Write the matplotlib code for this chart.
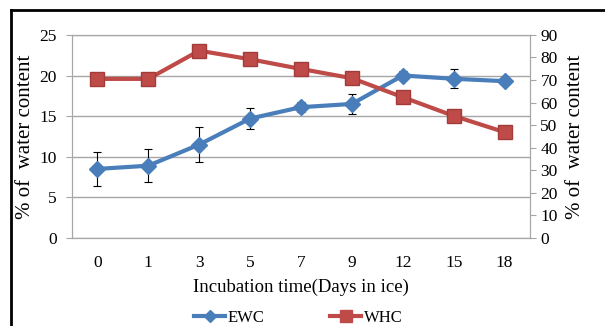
import matplotlib.pyplot as plt
from matplotlib.lines import Line2D

# Incubation time (days in ice)
days = ['0', '1', '3', '5', '7', '9', '12', '15', '18']
ewc = [8.5, 8.9, 11.5, 14.7, 16.1, 16.5, 20.0, 19.6, 19.3]
ewc_err = [2.1, 2.0, 2.1, 1.3, 0.6, 1.2, 0.6, 1.2, 0.3]
whc = [70.5, 70.5, 83.0, 79.2, 74.9, 70.8, 62.4, 54.1, 46.9]

plt.rcParams['font.family'] = 'Liberation Serif'

fig = plt.figure(figsize=(6.05, 3.26), dpi=100)
ax = fig.add_axes([0.119, 0.270, 0.757, 0.623])
ax2 = ax.twinx()

x = range(len(days))
ax.errorbar(x, ewc, yerr=ewc_err, color='#4a7ebb', lw=3, marker='D', ms=8,
            ecolor='black', elinewidth=0.8, capsize=3, capthick=0.8, zorder=3, label='EWC')
ax2.plot(x, whc, color='#be4b48', lw=3, marker='s', ms=10, mec='#a33c39', label='WHC')

ax.set_xlim(-0.5, len(days) - 0.5)
ax.set_ylim(0, 25)
ax.set_yticks(range(0, 26, 5))
ax2.set_ylim(0, 90)
ax2.set_yticks(range(0, 91, 10))
ax.set_xticks(list(x))
ax.set_xticklabels(days)
ax.grid(axis='y', color='#a6a6a6', lw=1)
ax.set_axisbelow(True)

for a in (ax, ax2):
    for s in a.spines.values():
        s.set_color('#a6a6a6')
    a.tick_params(labelsize=12.5, color='#a6a6a6', length=4)
ax.tick_params(axis='y', pad=7)
ax.tick_params(axis='x', length=0, pad=12)

ax.set_ylabel('% of  water content', fontsize=15, labelpad=3)
ax2.set_ylabel('% of  water content', fontsize=15, labelpad=6)
ax.set_xlabel('Incubation time(Days in ice)', fontsize=13.5, labelpad=6)

h1 = Line2D([], [], color='#4a7ebb', lw=3, marker='D', ms=6)
h2 = Line2D([], [], color='#be4b48', lw=3, marker='s', ms=8)
fig.legend([h1, h2], ['EWC', 'WHC'], loc='center', bbox_to_anchor=(0.493, 0.025),
           ncol=2, frameon=False, fontsize=12, columnspacing=3.9, handlelength=1.9,
           handletextpad=0.15)

# outer frame (top and left edges visible)
fig.add_artist(Line2D([0.018, 1], [0.969, 0.969], color='black', lw=2))
fig.add_artist(Line2D([0.018, 0.018], [0, 0.969], color='black', lw=2))

fig.savefig('out.png', dpi=100)
